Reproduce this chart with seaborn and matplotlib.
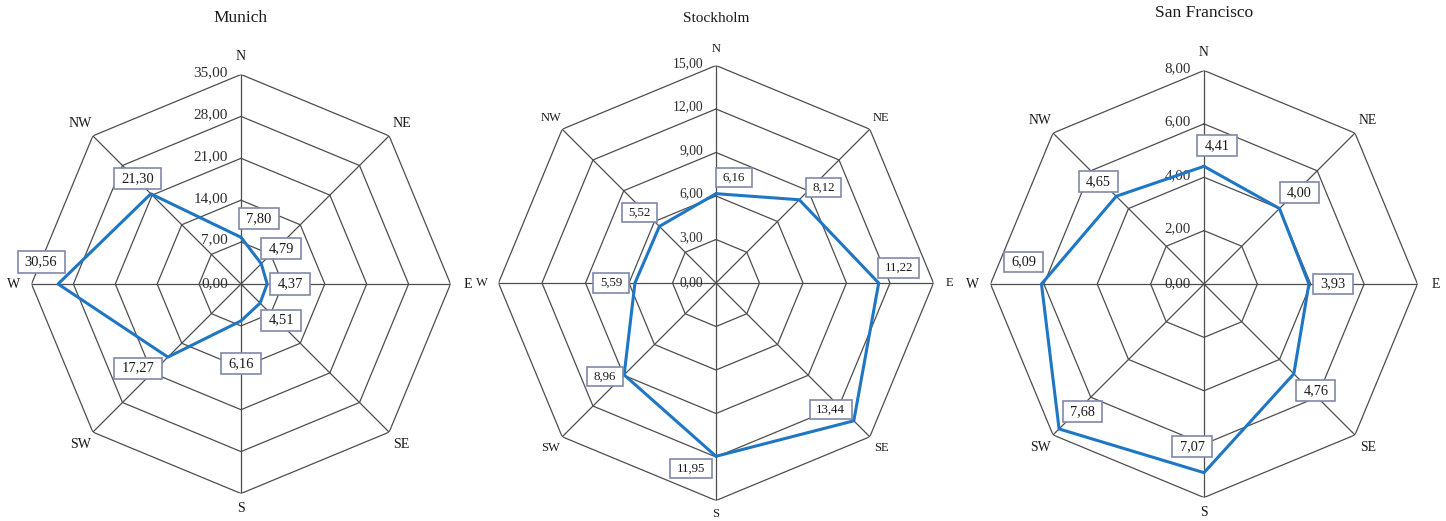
import numpy as np
import pandas as pd
import seaborn as sns
import matplotlib.pyplot as plt
from matplotlib.path import Path

directions = ["N", "NE", "E", "SE", "S", "SW", "W", "NW"]

munich_values = [7.80, 4.79, 4.37, 4.51, 6.16, 17.27, 30.56, 21.30]
munich_ticks = [0, 7, 14, 21, 28, 35]

stockholm_values = [6.16, 8.12, 11.22, 13.44, 11.95, 8.96, 5.59, 5.52]
stockholm_ticks = [0, 3, 6, 9, 12, 15]

sf_values = [4.41, 4.00, 3.93, 4.76, 7.07, 7.68, 6.09, 4.65]
sf_ticks = [0, 2, 4, 6, 8]

# label box offsets in pixels (dx, dy) for each direction
munich_offsets = [(18, 19), (20, 15), (23, 0), (21, -17), (0, -43), (-30, -11), (-17, 22), (-13, 15)]
stockholm_offsets = [(18, 16), (24, 12), (20, 15), (-23, 11), (-25, -12), (-19, -2), (-24, 0), (-20, 14)]
sf_offsets = [(13, 21), (20, 16), (24, 0), (22, -17), (-12, 26), (23, 17), (-18, 22), (-18, 15)]

sns.set_theme(style="white")
plt.rcParams["font.family"] = ["Liberation Serif", "DejaVu Serif"]

W, H = 1446, 521
fig = plt.figure(figsize=(W / 100, H / 100), dpi=100)

GRID = "#4d4d4d"
LINE = "#1f77c4"
BOX_EDGE = "#7f89a8"
TEXT = "#1a1a1a"


def wide_box(x0, y0, width, height, mutation_size):
    px = 0.5 * mutation_size
    py = 0.28 * mutation_size
    x0, y0 = x0 - px, y0 - py
    x1, y1 = x0 + width + 2 * px, y0 + height + 2 * py
    return Path([(x0, y0), (x1, y0), (x1, y1), (x0, y1), (x0, y0)], closed=True)


def fmt(v):
    return f"{v:.2f}".replace(".", ",")


def radar(cx, cy, R, values, ticks, offsets, title, title_y, fs, title_fs, lab_r=1.085):
    ax = fig.add_axes([(cx - R) / W, (H - cy - R) / H, 2 * R / W, 2 * R / H],
                      projection="polar")
    ax.set_theta_zero_location("N")
    ax.set_theta_direction(-1)
    rmax = ticks[-1]
    ax.set_ylim(0, rmax)
    ax.grid(False)
    ax.spines["polar"].set_visible(False)
    ax.set_xticks([])
    ax.set_yticks([])
    ax.patch.set_alpha(0)

    angles = np.deg2rad(np.arange(0, 360, 45))
    closed = np.append(angles, angles[0])

    # octagon rings and spokes
    for t in ticks[1:]:
        ax.plot(closed, [t] * len(closed), color=GRID, lw=0.9, zorder=1)
    for a in angles:
        ax.plot([a, a], [0, rmax], color=GRID, lw=0.9, zorder=1)

    # ring labels along the N spoke
    for t in ticks:
        ax.annotate(fmt(t), xy=(0, t), xytext=(-13, 0 if t == 0 else 2),
                    textcoords="offset pixels", ha="right", va="center",
                    fontsize=fs, color="#2e2e2e", zorder=2)

    # direction labels
    for a, d in zip(angles, directions):
        r = rmax * (lab_r - 0.015 if d == "S" else lab_r)
        ax.text(a, r, d, ha="center", va="center", fontsize=fs * 0.92, color=TEXT)

    df = pd.DataFrame({"theta": closed, "value": list(values) + [values[0]]})
    sns.lineplot(data=df, x="theta", y="value", ax=ax, sort=False,
                 estimator=None, color=LINE, lw=2.2, zorder=3)
    ax.set_xlabel("")
    ax.set_ylabel("")

    for a, v, (dx, dy) in zip(angles, values, offsets):
        ax.annotate(fmt(v), xy=(a, v), xytext=(dx, dy), textcoords="offset pixels",
                    ha="center", va="center", fontsize=fs * 0.95, color=TEXT,
                    bbox=dict(boxstyle=wide_box, fc="white", ec=BOX_EDGE, lw=1.2),
                    zorder=4)

    fig.text(cx / W, 1 - title_y / H, title, ha="center", va="center",
             fontsize=title_fs, color=TEXT)
    return ax


radar(241, 284, 209.5, munich_values, munich_ticks, munich_offsets,
      "Munich", 18, 11, 12.5)
radar(716, 283, 217.5, stockholm_values, stockholm_ticks, stockholm_offsets,
      "Stockholm", 18, 9.8, 11, lab_r=1.075)
radar(1204, 284, 213.5, sf_values, sf_ticks, sf_offsets,
      "San Francisco", 13, 10.8, 12.5)

fig.savefig("out.png", dpi=100)
